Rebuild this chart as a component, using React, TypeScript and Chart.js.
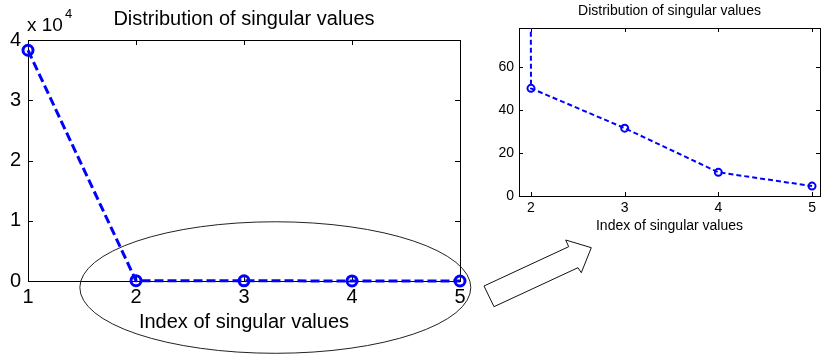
import React, { useEffect, useRef } from "react";
import { Chart, registerables } from "chart.js";

Chart.register(...registerables);

// ---- data ----
const indices = [1, 2, 3, 4, 5];
const singularValues = [38300, 50, 31.5, 11, 4.6];
const mainXTicks = [1, 2, 3, 4, 5];
const mainYTicks = [0, 10000, 20000, 30000, 40000];
const insetXTicks = [2, 3, 4, 5];
const insetYTicks = [0, 20, 40, 60];
const titleText = "Distribution of singular values";
const xTitleText = "Index of singular values";
const exponentBase = "x 10";
const exponentPower = "4";

// ---- annotation geometry ----
const ellipseBounds = { xMin: 1.48, xMax: 5.1, yMin: -12000, yMax: 9830 };
const arrowPoints: [number, number][] = [
  [4, 286],
  [14, 306.7],
  [98, 267.7],
  [101.3, 272.7],
  [111.3, 247.7],
  [85.7, 240],
  [88.7, 246.7],
];

const FONT = "Arial, 'Liberation Sans', Helvetica, sans-serif";
const BLUE = "#0000ff";

const framePlugin = (len: number) => ({
  id: "frameTicks",
  beforeDatasetsDraw(chart: any) {
    const { ctx, chartArea: a, scales } = chart;
    ctx.save();
    ctx.strokeStyle = "#000";
    ctx.lineWidth = 1;
    ctx.strokeRect(a.left + 0.5, a.top + 0.5, a.right - a.left, a.bottom - a.top);
    ctx.beginPath();
    scales.x.ticks.forEach((t: any) => {
      const px = Math.round(scales.x.getPixelForValue(t.value)) + 0.5;
      ctx.moveTo(px, a.bottom);
      ctx.lineTo(px, a.bottom - len);
      ctx.moveTo(px, a.top);
      ctx.lineTo(px, a.top + len);
    });
    scales.y.ticks.forEach((t: any) => {
      const py = Math.round(scales.y.getPixelForValue(t.value)) + 0.5;
      ctx.moveTo(a.left, py);
      ctx.lineTo(a.left + len, py);
      ctx.moveTo(a.right, py);
      ctx.lineTo(a.right - len, py);
    });
    ctx.stroke();
    ctx.restore();
  },
});

const mainExtrasPlugin = {
  id: "mainExtras",
  afterDraw(chart: any) {
    const { ctx, chartArea: a, scales } = chart;
    ctx.save();
    // exponent label
    ctx.fillStyle = "#000";
    ctx.textBaseline = "alphabetic";
    ctx.textAlign = "left";
    ctx.font = `19px ${FONT}`;
    ctx.fillText(exponentBase, a.left - 1, a.top - 9);
    const w = ctx.measureText(exponentBase).width;
    ctx.font = `13px ${FONT}`;
    ctx.fillText(exponentPower, a.left - 1 + w + 2, a.top - 22);
    // ellipse
    const x0 = scales.x.getPixelForValue(ellipseBounds.xMin);
    const x1 = scales.x.getPixelForValue(ellipseBounds.xMax);
    const y0 = scales.y.getPixelForValue(ellipseBounds.yMax);
    const y1 = scales.y.getPixelForValue(ellipseBounds.yMin);
    ctx.beginPath();
    ctx.ellipse((x0 + x1) / 2, (y0 + y1) / 2, (x1 - x0) / 2, (y1 - y0) / 2, 0, 0, Math.PI * 2);
    ctx.strokeStyle = "#222";
    ctx.lineWidth = 1;
    ctx.stroke();
    ctx.restore();
  },
};

const arrowPlugin = {
  id: "arrow",
  afterDraw(chart: any) {
    const { ctx } = chart;
    ctx.save();
    ctx.beginPath();
    arrowPoints.forEach(([x, y], i) => (i === 0 ? ctx.moveTo(x, y) : ctx.lineTo(x, y)));
    ctx.closePath();
    ctx.fillStyle = "#fff";
    ctx.fill();
    ctx.strokeStyle = "#111";
    ctx.lineWidth = 1;
    ctx.stroke();
    ctx.restore();
  },
};

const points = indices.map((x, i) => ({ x, y: singularValues[i] }));

const setTicks = (vals: number[]) => (s: any) => {
  s.ticks = vals.map((v) => ({ value: v }));
};

export default function App() {
  const leftRef = useRef<HTMLCanvasElement>(null);
  const rightRef = useRef<HTMLCanvasElement>(null);

  useEffect(() => {
    Chart.defaults.font.family = FONT;
    Chart.defaults.color = "#000";

    const left = new Chart(leftRef.current!, {
      type: "line",
      data: {
        datasets: [
          {
            data: points,
            borderColor: BLUE,
            borderWidth: 3,
            borderDash: [9, 4],
            pointRadius: 5,
            pointBorderWidth: 3,
            pointBorderColor: BLUE,
            pointBackgroundColor: "rgba(0,0,0,0)",
            tension: 0,
            clip: false as any,
          },
        ],
      },
      options: {
        responsive: false,
        animation: false,
        layout: { padding: { left: 0, right: 20, top: 0, bottom: 0 } },
        plugins: {
          legend: { display: false },
          tooltip: { enabled: false },
          title: {
            display: true,
            text: titleText,
            fullSize: false,
            color: "#000",
            font: { size: 20, weight: "normal" as any },
            padding: { top: 7, bottom: 9 },
          },
        },
        scales: {
          x: {
            type: "linear",
            min: 1,
            max: 5,
            afterBuildTicks: setTicks(mainXTicks),
            afterFit: (s: any) => {
              s.height = 75;
            },
            grid: { display: false, drawTicks: false },
            border: { display: false },
            ticks: { padding: 4, font: { size: 20 }, color: "#000", maxRotation: 0, autoSkip: false },
            title: {
              display: true,
              text: xTitleText,
              color: "#000",
              font: { size: 20 },
              padding: { top: 0, bottom: 22 },
            },
          },
          y: {
            type: "linear",
            min: 0,
            max: 40000,
            afterBuildTicks: setTicks(mainYTicks),
            afterFit: (s: any) => {
              s.width = 28;
            },
            grid: { display: false, drawTicks: false },
            border: { display: false },
            ticks: {
              padding: 7,
              font: { size: 20 },
              color: "#000",
              callback: (v: any) => String(Number(v) / 10000),
            },
          },
        },
      },
      plugins: [framePlugin(5), mainExtrasPlugin],
    });

    const right = new Chart(rightRef.current!, {
      type: "line",
      data: {
        datasets: [
          {
            data: points,
            borderColor: BLUE,
            borderWidth: 2,
            borderDash: [5, 3],
            pointRadius: 3.5,
            pointBorderWidth: 2,
            pointBorderColor: BLUE,
            pointBackgroundColor: "rgba(0,0,0,0)",
            tension: 0,
            clip: { left: false, top: 0, right: false, bottom: false } as any,
          },
        ],
      },
      options: {
        responsive: false,
        animation: false,
        layout: { padding: { left: 0, right: 7, top: 0, bottom: 0 } },
        plugins: {
          legend: { display: false },
          tooltip: { enabled: false },
          title: {
            display: true,
            text: titleText,
            fullSize: false,
            color: "#000",
            font: { size: 14, weight: "normal" as any },
            padding: { top: 3, bottom: 8.2 },
          },
        },
        scales: {
          x: {
            type: "linear",
            min: 1.872,
            max: 5.085,
            afterBuildTicks: setTicks(insetXTicks),
            afterFit: (s: any) => {
              s.height = 160;
            },
            grid: { display: false, drawTicks: false },
            border: { display: false },
            ticks: { padding: 4, font: { size: 14 }, color: "#000", maxRotation: 0, autoSkip: false },
            title: {
              display: true,
              text: xTitleText,
              color: "#000",
              font: { size: 14 },
              padding: { top: 0, bottom: 121.6 },
            },
          },
          y: {
            type: "linear",
            min: 0,
            max: 78,
            afterBuildTicks: setTicks(insetYTicks),
            afterFit: (s: any) => {
              s.width = 39;
            },
            grid: { display: false, drawTicks: false },
            border: { display: false },
            ticks: { padding: 5, font: { size: 14 }, color: "#000" },
          },
        },
      },
      plugins: [framePlugin(4), arrowPlugin],
    });

    return () => {
      left.destroy();
      right.destroy();
    };
  }, []);

  return (
    <div style={{ position: "absolute", left: 0, top: 0, width: 827, height: 356, background: "#fff" }}>
      <canvas ref={leftRef} width={480} height={356} style={{ position: "absolute", left: 0, top: 0 }} />
      <canvas ref={rightRef} width={347} height={356} style={{ position: "absolute", left: 480, top: 0 }} />
    </div>
  );
}
